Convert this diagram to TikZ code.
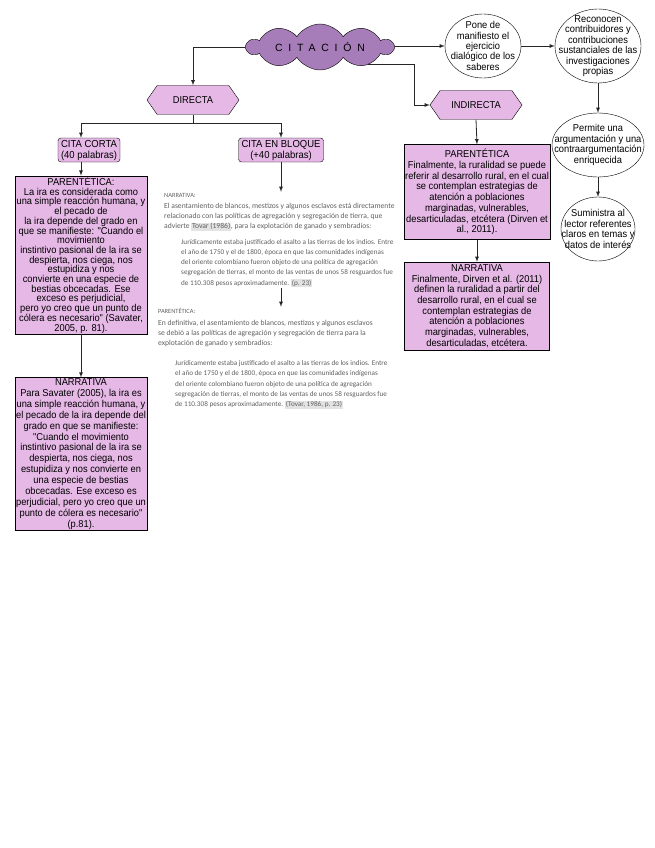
\documentclass[tikz,border=0pt]{standalone}
\usepackage{fontspec}
\setmainfont{Liberation Sans}
\newfontfamily\boxfont{Liberation Sans}[FakeStretch=0.93]
\newfontfamily\cloudfont{Liberation Sans}[LetterSpace=55]
\newfontfamily\blockfont{Carlito}
\usetikzlibrary{shapes.geometric, shapes.symbols, arrows, positioning, fit, calc}
\definecolor{pinkfill}{RGB}{230,184,230}
\definecolor{cloudfill}{RGB}{166,125,184}
\definecolor{quotegray}{RGB}{95,95,95}
\setlength{\fboxsep}{0.6pt}

\begin{document}
\begin{tikzpicture}[x=1pt, y=-1pt,
            cloudnode/.style={cloud, cloud puffs=10, cloud puff arc=115, cloud ignores aspect, draw, fill=cloudfill, minimum width=146, minimum height=46, inner sep=0pt, font=\cloudfont\fontsize{10.5}{12}\selectfont},
            hexnode/.style={signal, signal to=west and east, signal pointer angle=110, draw, fill=pinkfill, minimum width=92, minimum height=29, inner sep=1pt, font=\boxfont\fontsize{10}{11}\selectfont},
            bubble/.style={ellipse, draw, fill=white, align=center, inner sep=-20pt, font=\boxfont\fontsize{10}{10.4}\selectfont},
            citebox/.style={draw, rounded corners=3pt, fill=pinkfill, align=center, inner sep=1pt, font=\boxfont\fontsize{10.2}{11}\selectfont},
            textbox/.style={draw, fill=pinkfill, align=center, inner sep=1pt, font=\boxfont\fontsize{10}{9.7}\selectfont},
            blocklabel/.style={anchor=north west, inner sep=0pt, text=quotegray, font=\blockfont\fontsize{6.4}{7}\selectfont},
            blocktext/.style={anchor=north west, inner sep=0pt, align=left, text=quotegray, font=\blockfont\fontsize{7.6}{10.2}\selectfont},
            arrow/.style={-latex, line width=0.8pt, color=black!85}
        ]
            \useasboundingbox (0,0) rectangle (655,848);

            % Central concept
            \node[cloudnode] (citacion) at (320,47) {CITACIÓN};

            % What quoting does
            \node[bubble, minimum width=76, minimum height=64] (pone) at (483,46)
                {Pone de\\manifiesto el\\ejercicio\\dialógico de los\\saberes};
            \node[bubble, minimum width=86, minimum height=74] (reconocen) at (598,46)
                {Reconocen\\contribuidores y\\contribuciones\\sustanciales de las\\investigaciones\\propias};
            \node[bubble, minimum width=92, minimum height=64] (permite) at (598,145)
                {Permite una\\argumentación y una\\contraargumentación\\enriquecida};
            \node[bubble, minimum width=74, minimum height=64] (suministra) at (598,229)
                {Suministra al\\lector referentes\\claros en temas y\\datos de interés};

            % Two kinds of quote
            \node[hexnode] (directa) at (193,100) {DIRECTA};
            \node[hexnode] (indirecta) at (476,105) {INDIRECTA};

            % Direct quote, short
            \node[citebox, minimum width=62, minimum height=24] (citacorta) at (89,150) {CITA CORTA\\(40 palabras)};
            \node[textbox, minimum width=132, minimum height=156] (parenizq) at (81,255)
                {PARENTÉTICA:\\La ira es considerada como\\una simple reacción humana, y\\el pecado de\\la ira depende del grado en\\que se manifieste: "Cuando el\\movimiento\\instintivo pasional de la ira se\\despierta, nos ciega, nos\\estupidiza y nos\\convierte en una especie de\\bestias obcecadas. Ese\\exceso es perjudicial,\\pero yo creo que un punto de\\cólera es necesario" (Savater,\\2005, p. 81).};
            \node[textbox, minimum width=132, minimum height=152, font=\boxfont\fontsize{10}{10.9}\selectfont] (narrizq) at (81,454)
                {NARRATIVA\\Para Savater (2005), la ira es\\una simple reacción humana, y\\el pecado de la ira depende del\\grado en que se manifieste:\\"Cuando el movimiento\\instintivo pasional de la ira se\\despierta, nos ciega, nos\\estupidiza y nos convierte en\\una especie de bestias\\obcecadas. Ese exceso es\\perjudicial, pero yo creo que un\\punto de cólera es necesario"\\(p.81).};

            % Direct quote, block
            \node[citebox, minimum width=85, minimum height=24] (citabloque) at (281,150) {CITA EN BLOQUE\\(+40 palabras)};
            \node[blocklabel] (narrlbl) at (164,193) {NARRATIVA:};
            \node[blocktext] (narrpar) at (164,203)
                {El asentamiento de blancos, mestizos y algunos esclavos está directamente\\relacionado con las políticas de agregación y segregación de tierra, que\\advierte \colorbox{gray!22}{Tovar (1986)}, para la explotación de ganado y sembradíos:};
            \node[blocktext, font=\blockfont\fontsize{7.2}{10.2}\selectfont] (narrquote) at (181,239)
                {Jurídicamente estaba justificado el asalto a las tierras de los indios. Entre\\el año de 1750 y el de 1800, época en que las comunidades indígenas\\del oriente colombiano fueron objeto de una política de agregación\\segregación de tierras, el monto de las ventas de unos 58 resguardos fue\\de 110.308 pesos aproximadamente. \colorbox{gray!22}{(p. 23)}};
            \node[fit=(narrlbl)(narrpar)(narrquote), inner sep=1pt] (bloquenarr) {};

            \node[blocklabel] (parenlbl) at (158,308) {PARENTÉTICA:};
            \node[blocktext] (parenpar) at (158,320)
                {En definitiva, el asentamiento de blancos, mestizos y algunos esclavos\\se debió a las políticas de agregación y segregación de tierra para la\\explotación de ganado y sembradíos:};
            \node[blocktext, font=\blockfont\fontsize{7.2}{10.4}\selectfont] (parenquote) at (175,360)
                {Jurídicamente estaba justificado el asalto a las tierras de los indios. Entre\\el año de 1750 y el de 1800, época en que las comunidades indígenas\\del oriente colombiano fueron objeto de una política de agregación\\segregación de tierras, el monto de las ventas de unos 58 resguardos fue\\de 110.308 pesos aproximadamente. \colorbox{gray!22}{(Tovar, 1986, p. 23)}};
            \node[fit=(parenlbl)(parenpar)(parenquote), inner sep=1pt] (bloqueparen) {};

            % Indirect quote
            \node[textbox, minimum width=145, minimum height=95, font=\boxfont\fontsize{10}{10.7}\selectfont] (parender) at (477,192)
                {PARENTÉTICA\\Finalmente, la ruralidad se puede\\referir al desarrollo rural, en el cual\\se contemplan estrategias de\\atención a poblaciones\\marginadas, vulnerables,\\desarticuladas, etcétera (Dirven et\\al., 2011).};
            \node[textbox, minimum width=145, minimum height=88, font=\boxfont\fontsize{10}{10.7}\selectfont] (narrder) at (477,306)
                {NARRATIVA\\Finalmente, Dirven et al. (2011)\\definen la ruralidad a partir del\\desarrollo rural, en el cual se\\contemplan estrategias de\\atención a poblaciones\\marginadas, vulnerables,\\desarticuladas, etcétera.};

            % Arrows
            \draw[arrow] (citacion.west) -| (directa.north);
            \draw[arrow] (citacion.east |- pone.west) -- (pone.west);
            \draw[arrow] (citacion.-20) -- ++(46,0) |- (indirecta.west);
            \draw[arrow] (pone.east) -- (reconocen.west);
            \draw[arrow] (reconocen.south) -- (permite.north);
            \draw[arrow] (permite.south) -- (suministra.north);

            \draw[line width=0.8pt, color=black!85] (directa.south) -- ++(0,9) coordinate (split);
            \draw[arrow] (split) -| (citacorta.north -| parenizq.north);
            \draw[arrow] (split) -| (citabloque.north);
            \draw[arrow] (citacorta.south -| parenizq.north) -- (parenizq.north);
            \draw[arrow] (parenizq.south) -- (narrizq.north);
            \draw[arrow] (citabloque.south) -- (citabloque.south |- bloquenarr.north);
            \draw[arrow] (bloquenarr.south -| citabloque.south) -- (bloqueparen.north -| citabloque.south);

            \draw[arrow] (indirecta.south) -- (parender.north);
            \draw[arrow] (parender.south) -- (narrder.north);
        \end{tikzpicture}
\end{document}
